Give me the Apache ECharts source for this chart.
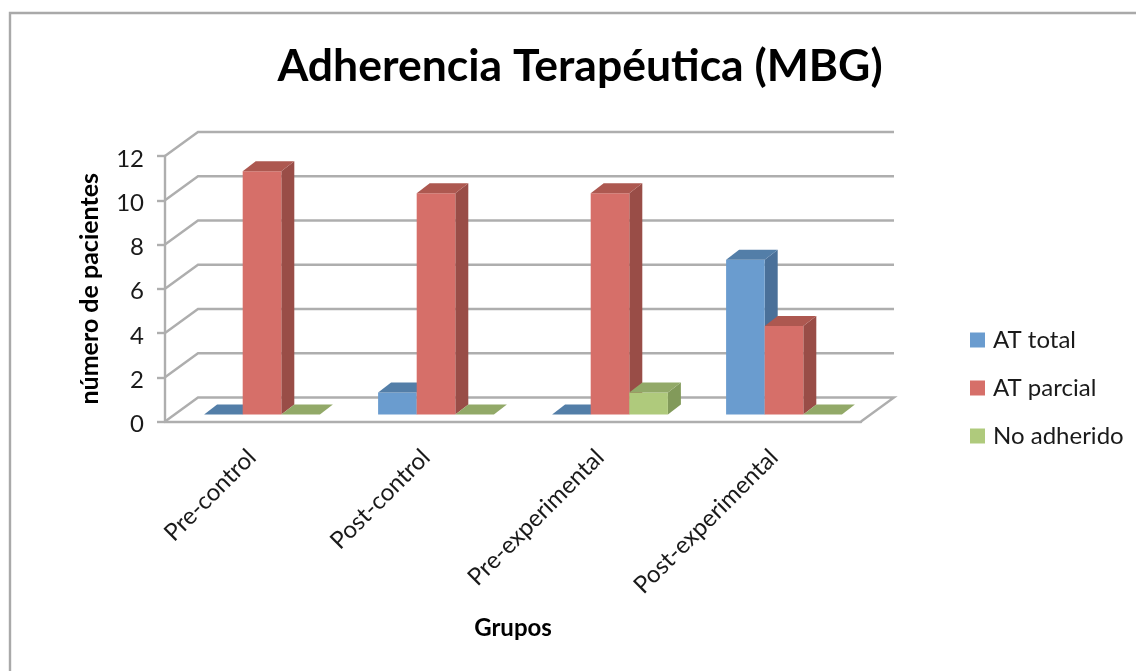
<!DOCTYPE html>
<html>
<head>
<meta charset="utf-8">
<style>html,body{margin:0;padding:0;background:#fff}#c{width:1136px;height:671px}</style>
<script src="https://cdn.jsdelivr.net/npm/echarts@6/dist/echarts.min.js"></script>
</head>
<body>
<div id="c"></div>
<script>
var categories = ['Pre-control', 'Post-control', 'Pre-experimental', 'Post-experimental'];
var atTotal = [0, 1, 0, 7];
var atParcial = [11, 10, 10, 4];
var noAdherido = [0, 0, 1, 0];
var yTicks = [0, 2, 4, 6, 8, 10, 12];

var FONT = 'Lato, "Open Sans", sans-serif';
var GRID_COLOR = '#aeaeae';
var WALL = { dx: 33, dy: -24 };
var BAR = { dx: 13, dy: -10, planeX: 10, planeY: -7, widthRatio: 38.6 / 174 };

function wallItem(params, api) {
  var v = api.value(0);
  var cs = params.coordSys;
  var y = api.coord([0, v])[1];
  var l = cs.x, r = cs.x + cs.width;
  var pts = [[l, y], [l + WALL.dx, y + WALL.dy], [r + WALL.dx, y + WALL.dy]];
  if (v === 0) pts.push([r, y]);
  return {
    type: 'polyline',
    shape: { points: pts },
    style: { stroke: GRID_COLOR, lineWidth: 2.4, fill: null },
    silent: true
  };
}

function barRenderer(slot, colors) {
  return function (params, api) {
    var i = api.value(0), v = api.value(1);
    var band = api.size([1, 0])[0];
    var w = band * BAR.widthRatio;
    var top = api.coord([i, v]);
    var base = api.coord([i, 0]);
    var x0 = base[0] + BAR.planeX + (slot - 1.5) * w;
    var x1 = x0 + w;
    var yb = base[1] + BAR.planeY;
    var yt = top[1] + BAR.planeY;
    var kids = [];
    if (v > 0) {
      kids.push({ type: 'polygon', shape: { points: [[x1, yt], [x1 + BAR.dx, yt + BAR.dy], [x1 + BAR.dx, yb + BAR.dy], [x1, yb]] }, style: { fill: colors.side } });
      kids.push({ type: 'polygon', shape: { points: [[x0, yb], [x1, yb], [x1, yt], [x0, yt]] }, style: { fill: colors.front } });
    }
    kids.push({ type: 'polygon', shape: { points: [[x0, yt], [x1, yt], [x1 + BAR.dx, yt + BAR.dy], [x0 + BAR.dx, yt + BAR.dy]] }, style: { fill: colors.top } });
    return { type: 'group', children: kids };
  };
}

function pairs(arr) { return arr.map(function (v, i) { return [i, v]; }); }

var blue = { front: '#6a9ccf', side: '#4a7099', top: '#537ea8' };
var red = { front: '#d66f69', side: '#994d47', top: '#ad5850' };
var green = { front: '#afca7c', side: '#829a5a', top: '#92a968' };

function barSeries(name, arr, slot, colors) {
  return {
    name: name, type: 'custom', data: pairs(arr), clip: false, z: 5, silent: true,
    encode: { x: 0, y: 1 },
    itemStyle: { color: colors.front },
    renderItem: barRenderer(slot, colors)
  };
}

var chart = echarts.init(document.getElementById('c'), null, { renderer: 'canvas' });
chart.setOption({
  animation: false,
  backgroundColor: '#ffffff',
  title: {
    text: 'Adherencia Terapéutica (MBG)',
    left: 575, top: 39, textAlign: 'center',
    textStyle: { fontFamily: FONT, fontSize: 44.5, fontWeight: 'bold', color: '#000' }
  },
  legend: {
    orient: 'vertical', left: 965, top: 323, itemWidth: 15, itemHeight: 15, itemGap: 24,
    icon: 'rect', selectedMode: false,
    data: ['AT total', 'AT parcial', 'No adherido'],
    textStyle: { fontFamily: FONT, fontSize: 24, color: '#1a1a1a', padding: [0, 0, 0, 3] }
  },
  grid: { left: 165, top: 156, width: 696, height: 265.5 },
  xAxis: {
    type: 'category', data: categories, boundaryGap: true,
    axisLine: { lineStyle: { color: GRID_COLOR, width: 2.4 } },
    axisTick: { show: false },
    axisLabel: { rotate: 45, interval: 0, margin: 32, fontFamily: FONT, fontSize: 24, color: '#1a1a1a' },
    name: 'Grupos', nameLocation: 'middle', nameGap: 195,
    nameTextStyle: { fontFamily: FONT, fontSize: 24, fontWeight: 'bold', color: '#000' }
  },
  yAxis: {
    type: 'value', min: 0, max: 12, interval: 2,
    axisLine: { show: true, lineStyle: { color: GRID_COLOR, width: 2.4 } },
    axisTick: { show: true, length: 8, lineStyle: { color: GRID_COLOR, width: 2.4 } },
    splitLine: { show: false },
    axisLabel: {
      margin: 21, formatter: '{a|{value}}',
      rich: { a: { padding: [6, 0, 0, 0], fontFamily: FONT, fontSize: 24, color: '#1a1a1a' } }
    },
    name: 'número de pacientes', nameLocation: 'middle', nameGap: 63, nameRotate: 90,
    nameTextStyle: { fontFamily: FONT, fontSize: 25, fontWeight: 'bold', color: '#000' }
  },
  graphic: [{
    type: 'rect', silent: true, z: -10,
    shape: { x: 10, y: 13, width: 1300, height: 800 },
    style: { fill: null, stroke: '#a9a9a9', lineWidth: 2.4 }
  }],
  series: [
    {
      name: 'walls', type: 'custom', data: yTicks.map(function (v) { return [v]; }),
      coordinateSystem: 'cartesian2d', clip: false, z: 1, silent: true,
      encode: { y: 0 }, renderItem: wallItem
    },
    barSeries('AT total', atTotal, 0, blue),
    barSeries('AT parcial', atParcial, 1, red),
    barSeries('No adherido', noAdherido, 2, green)
  ]
});
</script>
</body>
</html>
